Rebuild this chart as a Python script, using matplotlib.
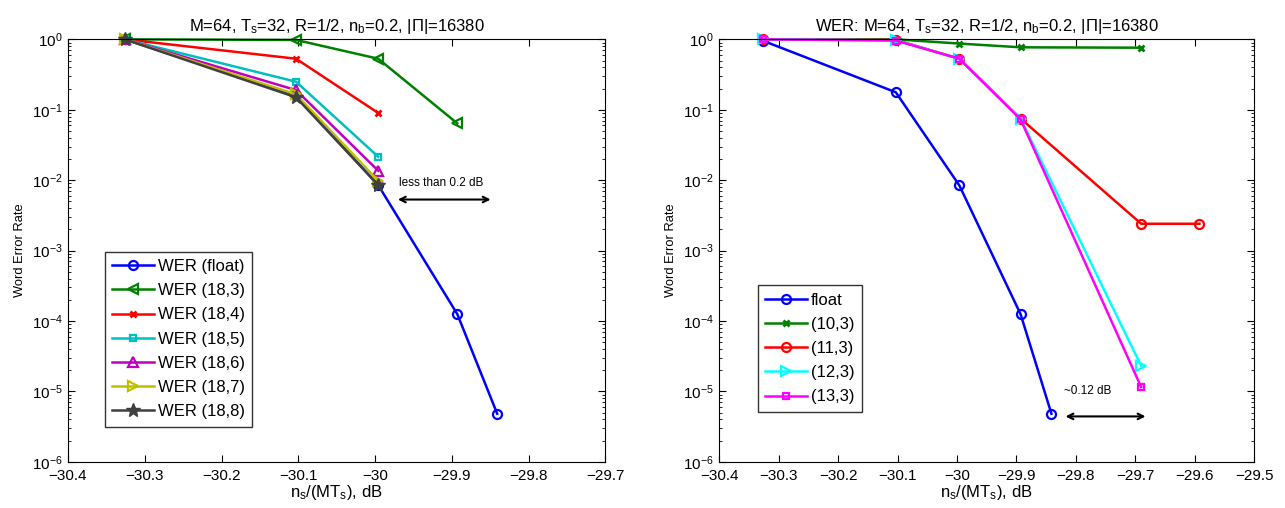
import matplotlib
matplotlib.use('Agg')
import matplotlib.pyplot as plt
from matplotlib.ticker import LogLocator, NullFormatter

plt.rcParams['font.family'] = ['Liberation Sans', 'DejaVu Sans']
plt.rcParams['mathtext.fontset'] = 'custom'
plt.rcParams['mathtext.rm'] = 'Liberation Sans'
plt.rcParams['mathtext.it'] = 'Liberation Sans'

# ---------------- data: left panel (WER vs quantisation, 18 bit) ----------------
x_left = [-30.326, -30.103, -29.996, -29.893, -29.841]
wer_float = [1.0, 0.16, 0.0085, 1.25e-4, 4.8e-6]
wer_18_3 = [1.0, 0.98, 0.53, 0.064]
wer_18_4 = [1.0, 0.53, 0.09]
wer_18_5 = [1.0, 0.25, 0.0215]
wer_18_6 = [1.0, 0.19, 0.0136]
wer_18_7 = [1.0, 0.165, 0.0098]
wer_18_8 = [1.0, 0.15, 0.0085]

# ---------------- data: right panel ----------------
x_right = [-30.326, -30.103, -29.996, -29.893, -29.841]
x_right_q = [-30.326, -30.103, -29.996, -29.893, -29.690, -29.592]
wer_float_r = [0.95, 0.177, 0.0084, 1.25e-4, 4.8e-6]
wer_10_3 = [1.0, 1.0, 0.87, 0.77, 0.76]
wer_11_3 = [1.0, 0.98, 0.53, 0.075, 2.4e-3, 2.4e-3]
wer_12_3 = [1.0, 0.97, 0.53, 0.075, 2.3e-5]
wer_13_3 = [1.0, 0.96, 0.53, 0.073, 1.15e-5]

title_l = r'M=64, T$_\mathregular{s}$=32, R=1/2, n$_\mathregular{b}$=0.2, |$\Pi$|=16380'
title_r = 'WER: ' + title_l
xlab = r'n$_\mathregular{s}$/(MT$_\mathregular{s}$), dB'

fig = plt.figure(figsize=(12.85, 5.08), dpi=100)
axL = fig.add_axes([0.0529, 0.0911, 0.4183, 0.8315])
axR = fig.add_axes([0.5598, 0.0911, 0.4161, 0.8315])

lw = 1.8
ms = 6.5
mew = 1.6

def style_axis(ax, xlim, xticks):
    ax.set_yscale('log')
    ax.set_xlim(xlim)
    ax.set_ylim(1e-6, 1.0)
    ax.set_xticks(xticks)
    ax.set_xticklabels([('%g' % t).replace('-', '\u2212') for t in xticks])
    ax.set_yticks([10.0 ** k for k in range(-6, 1)])
    ax.yaxis.set_minor_locator(LogLocator(base=10, subs=range(2, 10), numticks=20))
    ax.yaxis.set_minor_formatter(NullFormatter())
    ax.tick_params(which='both', direction='in', top=True, right=True, labelsize=11)
    ax.tick_params(axis='x', pad=5)
    ax.tick_params(axis='y', pad=4)
    ax.tick_params(which='major', length=5)
    ax.tick_params(which='minor', length=2.5)
    ax.set_ylabel('Word Error Rate', fontsize=9.3)
    ax.set_xlabel(xlab, fontsize=12, labelpad=0)
    for ln in ax.get_lines():
        ln.set_clip_on(False)

def add_legend(ax, anchor):
    leg = ax.legend(loc='lower left', bbox_to_anchor=anchor, borderaxespad=0,
                    fontsize=12, frameon=True, fancybox=False, edgecolor='k',
                    handlelength=2.5, labelspacing=0.55, borderpad=0.45, handletextpad=0.25)
    leg.get_frame().set_linewidth(1.0)
    return leg

# Left panel
axL.plot(x_left, wer_float, '-o', color='b', lw=lw, ms=ms, mfc='none', mew=mew, label='WER (float)')
axL.plot(x_left[:4], wer_18_3, '-<', color=(0, 0.5, 0), lw=lw, ms=ms, mfc='none', mew=mew, label='WER (18,3)')
axL.plot(x_left[:3], wer_18_4, '-x', color='r', lw=lw, ms=4, mew=2, label='WER (18,4)')
axL.plot(x_left[:3], wer_18_5, '-s', color=(0, 0.75, 0.75), lw=lw, ms=5, mfc='none', mew=mew, label='WER (18,5)')
axL.plot(x_left[:3], wer_18_6, '-^', color=(0.75, 0, 0.75), lw=lw, ms=ms, mfc='none', mew=mew, label='WER (18,6)')
axL.plot(x_left[:3], wer_18_7, '->', color=(0.75, 0.75, 0), lw=lw, ms=ms, mfc='none', mew=mew, label='WER (18,7)')
axL.plot(x_left[:3], wer_18_8, '-*', color=(0.25, 0.25, 0.25), lw=lw, ms=10, label='WER (18,8)')
style_axis(axL, (-30.4, -29.7), [-30.4, -30.3, -30.2, -30.1, -30.0, -29.9, -29.8, -29.7])
axL.set_title(title_l, fontsize=12, pad=6)
axL.annotate('', xy=(-29.846, 5.3e-3), xytext=(-29.974, 5.3e-3),
             arrowprops=dict(arrowstyle='<->', color='k', lw=1.5))
axL.text(-29.969, 9e-3, 'less than 0.2 dB', fontsize=8.5, va='center', ha='left')
add_legend(axL, (0.068, 0.083))

# Right panel
axR.plot(x_right, wer_float_r, '-o', color='b', lw=lw, ms=ms, mfc='none', mew=mew, label='float')
axR.plot(x_right_q[:5], wer_10_3, '-x', color=(0, 0.5, 0), lw=lw, ms=4, mew=2, label='(10,3)')
axR.plot(x_right_q, wer_11_3, '-o', color='r', lw=lw, ms=ms, mfc='none', mew=mew, label='(11,3)')
axR.plot(x_right_q[:5], wer_12_3, '->', color=(0, 1, 1), lw=lw, ms=ms, mfc='none', mew=mew, label='(12,3)')
axR.plot(x_right_q[:5], wer_13_3, '-s', color=(1, 0, 1), lw=lw, ms=5, mfc='none', mew=mew, label='(13,3)')
style_axis(axR, (-30.4, -29.5), [-30.4, -30.3, -30.2, -30.1, -30.0, -29.9, -29.8, -29.7, -29.6, -29.5])
axR.set_title(title_r, fontsize=12, pad=6)
axR.annotate('', xy=(-29.678, 4.4e-6), xytext=(-29.822, 4.4e-6),
             arrowprops=dict(arrowstyle='<->', color='k', lw=1.5))
axR.text(-29.82, 1.0e-5, '~0.12 dB', fontsize=8.5, va='center', ha='left')
add_legend(axR, (0.072, 0.118))

fig.savefig('out.png', dpi=100)
